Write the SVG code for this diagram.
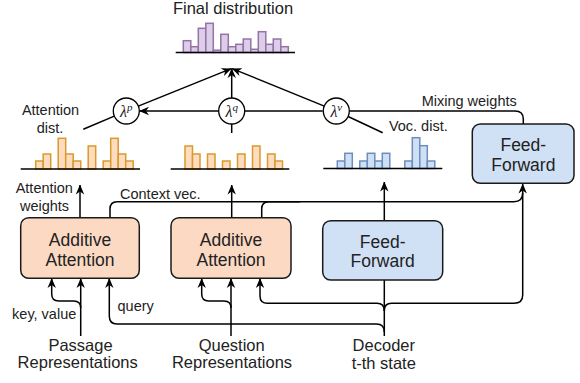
<svg xmlns="http://www.w3.org/2000/svg" width="580" height="383" viewBox="0 0 580 383">
<defs>
<marker id="arr" viewBox="0 0 10 10" refX="9.5" refY="5" markerWidth="10" markerHeight="10" markerUnits="userSpaceOnUse" orient="auto">
<path d="M0,0.8 L10,5 L0,9.2 L3,5 Z" fill="#000"/>
</marker>
<style>
text{font-family:"Liberation Sans",Arial,sans-serif;fill:#222}
.s{font-size:14.5px}
.m{font-size:16.5px}
.b{font-size:17.5px}
.lam{font-family:"Liberation Serif","Times New Roman",serif;font-style:italic;font-size:16px}
.sup{font-size:11px}
.ln{fill:none;stroke:#000;stroke-width:1.5}
.base{stroke:#000;stroke-width:1.5}
.or rect{fill:#ffdcc0;stroke:#d79b2e;stroke-width:1.5}
.bl rect{fill:#cfe0f5;stroke:#6c8ebf;stroke-width:1.5}
.pu rect{fill:#dccde8;stroke:#9673a6;stroke-width:1.5}
.box{stroke:#1a1a1a;stroke-width:1.5}
.peach{fill:#fcd9c3}
.blue{fill:#d0e1f5}
.circ{fill:#fff;stroke:#000;stroke-width:1.3}
</style>
</defs>

<g id="final-dist">
<text class="m" x="233" y="14" text-anchor="middle">Final distribution</text>
<g class="pu">
<rect x="183.3" y="40.7" width="7.5" height="11.8"/>
<rect x="190.8" y="46.7" width="7.5" height="5.8"/>
<rect x="198.3" y="28.3" width="7.5" height="24.2"/>
<rect x="205.8" y="23.3" width="7.5" height="29.2"/>
<rect x="213.3" y="50.2" width="7.5" height="2.3"/>
<rect x="220.8" y="34.3" width="7.5" height="18.2"/>
<rect x="228.3" y="46.7" width="7.5" height="5.8"/>
<rect x="235.8" y="44.3" width="7.5" height="8.2"/>
<rect x="243.3" y="39" width="7.5" height="13.5"/>
<rect x="250.8" y="49.3" width="7.5" height="3.2"/>
<rect x="258.3" y="31.7" width="7.5" height="20.8"/>
<rect x="265.8" y="44.3" width="7.5" height="8.2"/>
<rect x="273.3" y="39" width="7.5" height="13.5"/>
<rect x="280.8" y="46.7" width="7.5" height="5.8"/>
</g>
<line class="base" x1="175.7" y1="52.5" x2="295" y2="52.5"/>
</g>

<g id="attention-dist">
<text class="s" x="50.5" y="115" text-anchor="middle">Attention</text>
<text class="s" x="50" y="132.5" text-anchor="middle">dist.</text>
<g class="or">
<rect x="35.7" y="161" width="7.5" height="8"/>
<rect x="43.2" y="154" width="7.5" height="15"/>
<rect x="58.2" y="138.3" width="7.5" height="30.7"/>
<rect x="65.7" y="154" width="7.5" height="15"/>
<rect x="73.2" y="161" width="7.5" height="8"/>
<rect x="88.2" y="146" width="7.5" height="23"/>
<rect x="103.2" y="161" width="7.5" height="8"/>
<rect x="110.7" y="138.3" width="7.5" height="30.7"/>
<rect x="118.2" y="154" width="7.5" height="15"/>
<rect x="125.7" y="161" width="7.5" height="8"/>
</g>
<line class="base" x1="20.7" y1="169" x2="140" y2="169"/>
</g>

<g id="question-dist">
<g class="or">
<rect x="185" y="146" width="7.5" height="23"/>
<rect x="192.5" y="154" width="7.5" height="15"/>
<rect x="207.5" y="154" width="7.5" height="15"/>
<rect x="222.5" y="161" width="7.5" height="8"/>
<rect x="237.5" y="154" width="7.5" height="15"/>
<rect x="252.5" y="146" width="7.5" height="23"/>
<rect x="267.5" y="154" width="7.5" height="15"/>
<rect x="275" y="161" width="7.5" height="8"/>
</g>
<line class="base" x1="170.7" y1="169" x2="289.3" y2="169"/>
</g>

<g id="voc-dist">
<text class="s" x="418.3" y="130.5" text-anchor="middle">Voc. dist.</text>
<g class="bl">
<rect x="337.3" y="161" width="7.5" height="7.5"/>
<rect x="344.8" y="153.3" width="7.5" height="15.2"/>
<rect x="359.8" y="161" width="7.5" height="7.5"/>
<rect x="367.3" y="153.3" width="7.5" height="15.2"/>
<rect x="374.8" y="161" width="7.5" height="7.5"/>
<rect x="382.3" y="153.3" width="7.5" height="15.2"/>
<rect x="404.8" y="161" width="7.5" height="7.5"/>
<rect x="412.3" y="137.7" width="7.5" height="30.8"/>
<rect x="419.8" y="145.7" width="7.5" height="22.8"/>
<rect x="427.3" y="161" width="7.5" height="7.5"/>
</g>
<line class="base" x1="323.3" y1="168.5" x2="442.3" y2="168.5"/>
</g>

<g id="connectors">
<path class="ln" d="M138.3,106.1 L231.2,68.6" marker-end="url(#arr)"/>
<path class="ln" d="M231.7,98 V68.6" marker-end="url(#arr)"/>
<path class="ln" d="M324.3,106.1 L232.2,68.6" marker-end="url(#arr)"/>
<path class="ln" d="M218.7,111 H139.5" marker-end="url(#arr)"/>
<path class="ln" d="M322.7,111 H245"/>
<path class="ln" d="M349.3,111 H515 Q523.3,111 523.3,119 V124"/>
<path class="ln" d="M83.3,129.3 L114.3,116.1"/>
<path class="ln" d="M231.7,124 V133"/>
<path class="ln" d="M348.1,116.5 L382.7,132.7"/>
<path class="ln" d="M80,217.7 V185" marker-end="url(#arr)"/>
<path class="ln" d="M231.7,217.7 V185" marker-end="url(#arr)"/>
<path class="ln" d="M384.3,220.7 V182" marker-end="url(#arr)"/>
<path class="ln" d="M110,217.7 V209 Q110,201.7 117,201.7 H514 Q522.7,201.7 522.7,193"/>
<path class="ln" d="M261.7,217.7 V209 Q261.7,201.7 268.7,201.7 H300"/>
<path class="ln" d="M384.3,336 V280"/>
<path class="ln" d="M384.3,311 Q384.3,303.3 377,303.3 H267.5 Q260,303.3 260,296 V278.5" marker-end="url(#arr)"/>
<path class="ln" d="M384.3,311 Q384.3,303.3 391.5,303.3 H514 Q522.7,303.3 522.7,295 V184" marker-end="url(#arr)"/>
<path class="ln" d="M384.3,332 Q384.3,324 376.5,324 H117 Q109.3,324 109.3,316 V278.5" marker-end="url(#arr)"/>
<path class="ln" d="M80.7,336 V278.5" marker-end="url(#arr)"/>
<path class="ln" d="M80.7,308 Q80.7,301 73.7,301 H58.7 Q51.7,301 51.7,294 V278.5" marker-end="url(#arr)"/>
<path class="ln" d="M231,336 V278.5" marker-end="url(#arr)"/>
<path class="ln" d="M231,308 Q231,301 224,301 H208.7 Q201.7,301 201.7,294 V278.5" marker-end="url(#arr)"/>
</g>

<g id="lambda-p">
<circle class="circ" cx="126.3" cy="111" r="13"/>
<text class="lam" x="126.3" y="116.5" text-anchor="middle">λ<tspan class="sup" dy="-5.5">p</tspan></text>
</g>
<g id="lambda-q">
<circle class="circ" cx="231.7" cy="111" r="13"/>
<text class="lam" x="231.7" y="116.5" text-anchor="middle">λ<tspan class="sup" dy="-5.5">q</tspan></text>
</g>
<g id="lambda-v">
<circle class="circ" cx="336.3" cy="111" r="13"/>
<text class="lam" x="336.3" y="116.5" text-anchor="middle">λ<tspan class="sup" dy="-5.5">v</tspan></text>
</g>

<g id="mixing-label">
<text class="s" x="469.2" y="106" text-anchor="middle">Mixing weights</text>
</g>
<g id="ff-mix">
<rect class="box blue" x="472.3" y="124" width="101.7" height="59.3" rx="8"/>
<text class="b" x="523.3" y="151" text-anchor="middle">Feed-</text>
<text class="b" x="523.3" y="171" text-anchor="middle">Forward</text>
</g>

<g id="attn-weights-label">
<text class="s" x="44.3" y="193" text-anchor="middle">Attention</text>
<text class="s" x="44.5" y="210.7" text-anchor="middle">weights</text>
</g>
<g id="context-label">
<text class="s" x="120" y="199">Context vec.</text>
</g>

<g id="attn-passage">
<rect class="box peach" x="20.7" y="217.7" width="118.6" height="60.6" rx="8"/>
<text class="b" x="80" y="246" text-anchor="middle">Additive</text>
<text class="b" x="80" y="266" text-anchor="middle">Attention</text>
</g>
<g id="attn-question">
<rect class="box peach" x="171" y="217.7" width="120" height="60.6" rx="8"/>
<text class="b" x="231" y="246" text-anchor="middle">Additive</text>
<text class="b" x="231" y="266" text-anchor="middle">Attention</text>
</g>
<g id="ff-voc">
<rect class="box blue" x="322.7" y="220.7" width="120" height="59.3" rx="8"/>
<text class="b" x="382.7" y="247.5" text-anchor="middle">Feed-</text>
<text class="b" x="382.7" y="267" text-anchor="middle">Forward</text>
</g>

<g id="edge-labels">
<text class="s" x="44.2" y="319.3" text-anchor="middle">key, value</text>
<text class="s" x="135.7" y="310.7" text-anchor="middle">query</text>
</g>

<g id="passage">
<text class="m" x="80.5" y="350.7" text-anchor="middle">Passage</text>
<text class="m" x="77.7" y="368.3" text-anchor="middle">Representations</text>
</g>
<g id="question">
<text class="m" x="231.7" y="350.7" text-anchor="middle">Question</text>
<text class="m" x="232" y="368.3" text-anchor="middle">Representations</text>
</g>
<g id="decoder">
<text class="m" x="383.8" y="350.7" text-anchor="middle">Decoder</text>
<text class="m" x="383.8" y="369" text-anchor="middle">t-th state</text>
</g>
</svg>
